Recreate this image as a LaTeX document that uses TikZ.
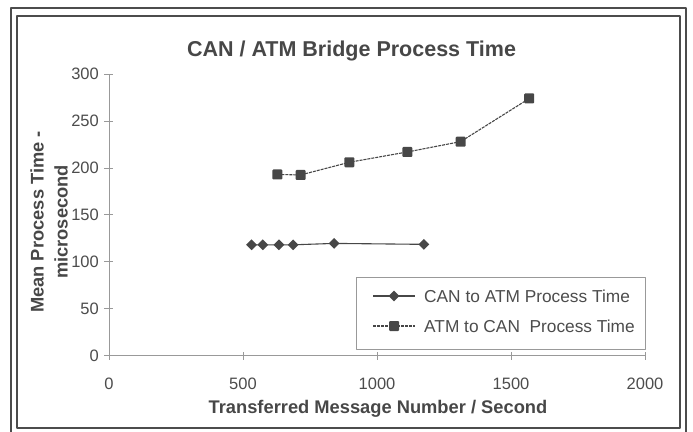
\documentclass[tikz,border=0pt]{standalone}
\usepackage{fontspec}
\setmainfont{Liberation Sans}
\usetikzlibrary{shapes.geometric}

\begin{document}
\begin{tikzpicture}[x=1pt,y=-1pt,line join=round]
\tikzstyle{frm} = [draw=black!70,line width=2]
\tikzstyle{ax} = [draw=black!40,line width=0.7]
\tikzstyle{tck} = [text=black!70,font=\fontsize{16.5}{18}\selectfont,inner sep=0pt]
\tikzstyle{albl} = [text=black!72,font=\bfseries\fontsize{18.3}{24}\selectfont,inner sep=0pt]
\tikzstyle{dmark} = [diamond,fill=black!72,inner sep=0pt,minimum width=11,minimum height=11]
\tikzstyle{smark} = [rectangle,fill=black!72,inner sep=0pt,minimum size=10,rounded corners=1]
\useasboundingbox (0,0) rectangle (693,431);
% frame
\draw[frm] (11,8) rectangle (686,438);
\draw[frm] (17,16) rectangle (680,428);
\node[albl,font=\bfseries\fontsize{21.5}{24}\selectfont] (title) at (351.5,51) {CAN / ATM Bridge Process Time};
\node[albl,rotate=90,align=center] (ylab) at (49,222) {Mean Process Time -\\microsecond};
\node[albl] (xlab) at (378,409) {Transferred Message Number / Second};
% plot area
\begin{scope}[shift={(109,355.5)},x=0.268pt,y=0.938pt]
\coordinate (o) at (0,0);
\coordinate (ytop) at (0,300);
\coordinate (xend) at (2000,0);
\draw[ax] (ytop) -- (o) -- (xend);
\foreach \v in {0,50,...,300}
  {\draw[ax] (0,\v) ++(-5pt,0) -- ++(9pt,0);
   \node[tck,anchor=east] (y\v) at ([xshift=-10pt]0,\v) {\v};}
\foreach \v in {0,500,...,2000}
  {\draw[ax] (\v,0) ++(0,-4pt) -- ++(0,8pt);
   \node[tck] (x\v) at ([yshift=-28.5pt]\v,0) {\v};}
% CAN to ATM
\foreach \n/\px/\py in {1/532/118,2/574/118,3/634/118,4/687/118,5/840/119.5,6/1175/118.5}
  \coordinate (c\n) at (\px,\py);
\draw[black!72,line width=1.1] (c1) -- (c2) -- (c3) -- (c4) -- (c5) -- (c6);
\foreach \n in {1,...,6} \node[dmark] (cm\n) at (c\n) {};
% ATM to CAN
\foreach \n/\px/\py in {1/628/193,2/715/192.5,3/897/206,4/1113/217,5/1312/228,6/1568/274}
  \coordinate (a\n) at (\px,\py);
\draw[black!72,line width=1.1,dash pattern=on 3pt off 1pt] (a1) -- (a2) -- (a3) -- (a4) -- (a5) -- (a6);
\foreach \n in {1,...,6} \node[smark] (am\n) at (a\n) {};
\end{scope}
% legend
\draw[ax,line width=0.6] (356,277) rectangle (645,349);
\coordinate (l1a) at (373,296);
\coordinate (l1b) at (415,296);
\coordinate (l2a) at (373,326);
\coordinate (l2b) at (415,326);
\draw[black!72,line width=1.1] (l1a) -- (l1b);
\node[dmark] (lm1) at (394,296) {};
\draw[black!72,line width=1.1,dash pattern=on 3pt off 1pt] (l2a) -- (l2b);
\node[smark] (lm2) at (394,326) {};
\node[tck,anchor=west,font=\fontsize{17.3}{19}\selectfont] (lt1) at (424,296) {CAN to ATM Process Time};
\node[tck,anchor=west,font=\fontsize{17.3}{19}\selectfont] (lt2) at (424,326) {ATM to CAN\ \ Process Time};
\end{tikzpicture}
\end{document}
